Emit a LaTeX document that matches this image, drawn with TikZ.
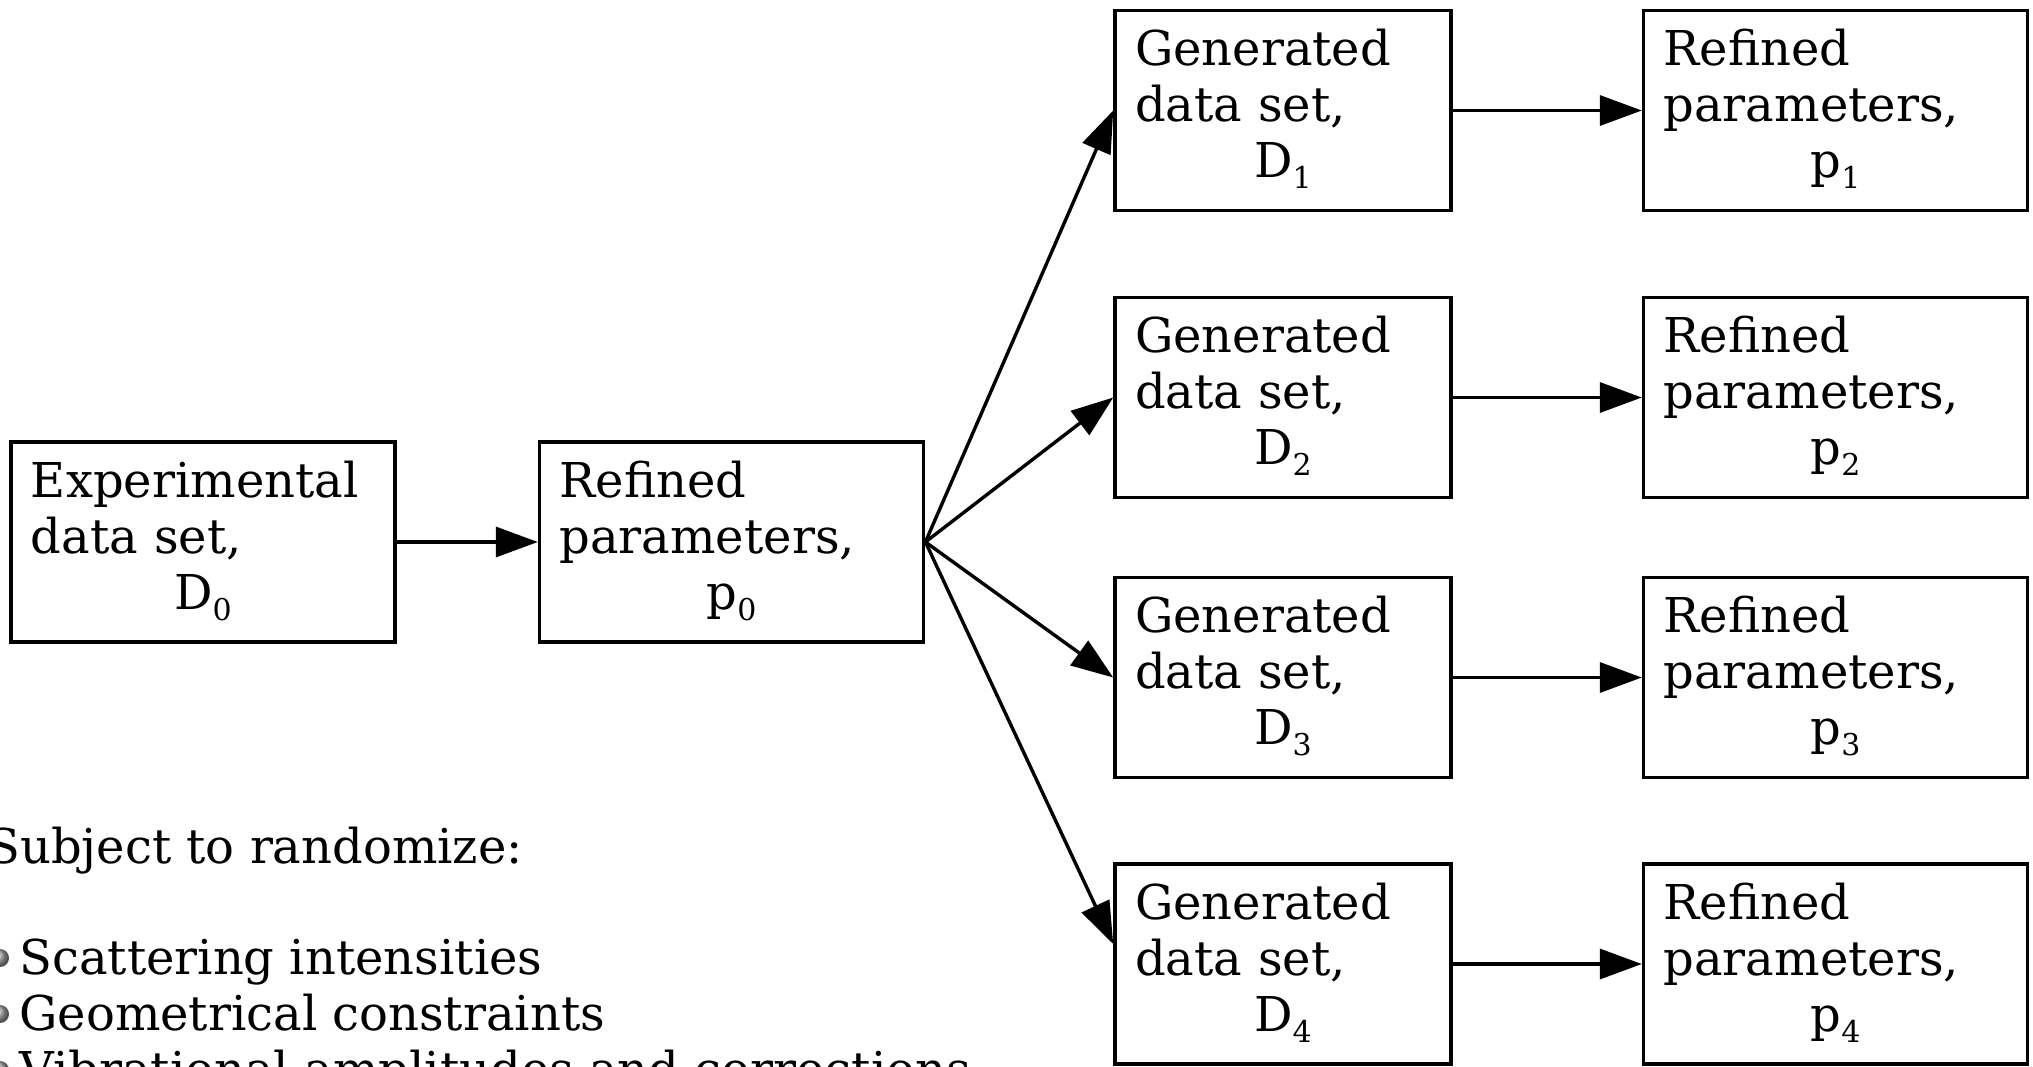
\documentclass[tikz,border=0pt]{standalone}
\usepackage{fontspec}
\setmainfont{DejaVu Serif}
\usetikzlibrary{positioning, arrows.meta}

\begin{document}
\begin{tikzpicture}[
  x=0.5pt, y=-0.5pt,
  font=\fontsize{24}{28}\selectfont,
  >={Triangle[length=21pt, width=15pt]},
  stagebox/.style={rectangle, draw=black, line width=1.8pt, minimum width=192pt, minimum height=100pt, text width=172pt, inner xsep=10pt, inner ysep=0pt, align=left},
  genbox/.style={stagebox, minimum width=168pt, text width=148pt},
  flowarrow/.style={->, line width=1.7pt},
  bulletdot/.style={circle, inner sep=0pt, minimum size=9pt, ball color=gray!70},
  listtext/.style={anchor=base west, inner sep=0pt}
]
\useasboundingbox (0,0) rectangle (2033,1066);

% Starting data and first refinement
\node[stagebox] (D0) at (203,542) {\strut Experimental\\data set,\\\hbox to\hsize{\hfil D\raisebox{-5.5pt}{\fontsize{15}{15}\selectfont 0}\strut\hfil}};
\node[stagebox, right=70.5pt of D0] (P0) {\strut Refined\\parameters,\\\hbox to\hsize{\hfil p\raisebox{-5.5pt}{\fontsize{15}{15}\selectfont 0}\strut\hfil}};

% Generated data sets
\node[genbox] (D1) at (1283,110.5) {\strut Generated\\data set,\\\hbox to\hsize{\hfil D\raisebox{-5.5pt}{\fontsize{15}{15}\selectfont 1}\strut\hfil}};
\node[genbox] (D2) at (1283,397.5) {\strut Generated\\data set,\\\hbox to\hsize{\hfil D\raisebox{-5.5pt}{\fontsize{15}{15}\selectfont 2}\strut\hfil}};
\node[genbox] (D3) at (1283,677.5) {\strut Generated\\data set,\\\hbox to\hsize{\hfil D\raisebox{-5.5pt}{\fontsize{15}{15}\selectfont 3}\strut\hfil}};
\node[genbox] (D4) at (1283,964) {\strut Generated\\data set,\\\hbox to\hsize{\hfil D\raisebox{-5.5pt}{\fontsize{15}{15}\selectfont 4}\strut\hfil}};

% Refined parameters
\node[stagebox, right=94.5pt of D1] (P1) {\strut Refined\\parameters,\\\hbox to\hsize{\hfil p\raisebox{-5.5pt}{\fontsize{15}{15}\selectfont 1}\strut\hfil}};
\node[stagebox, right=94.5pt of D2] (P2) {\strut Refined\\parameters,\\\hbox to\hsize{\hfil p\raisebox{-5.5pt}{\fontsize{15}{15}\selectfont 2}\strut\hfil}};
\node[stagebox, right=94.5pt of D3] (P3) {\strut Refined\\parameters,\\\hbox to\hsize{\hfil p\raisebox{-5.5pt}{\fontsize{15}{15}\selectfont 3}\strut\hfil}};
\node[stagebox, right=94.5pt of D4] (P4) {\strut Refined\\parameters,\\\hbox to\hsize{\hfil p\raisebox{-5.5pt}{\fontsize{15}{15}\selectfont 4}\strut\hfil}};

% Randomized quantities
\node[listtext] (subj) at (-13,863) {Subject to randomize:};
\node[listtext] (item1) at (19,974) {Scattering intensities};
\node[listtext] (item2) at (19,1030) {Geometrical constraints};
\node[listtext] (item3) at (19,1086) {Vibrational amplitudes and corrections};
\node[bulletdot] (dot1) at (0,958) {};
\node[bulletdot] (dot2) at (0,1014) {};
\node[bulletdot] (dot3) at (0,1070) {};

% Routing
\draw[flowarrow] (D0) -- (P0);
\draw[flowarrow] (P0.east) -- (D1.west);
\draw[flowarrow] (P0.east) -- (D2.west);
\draw[flowarrow] (P0.east) -- (D3.west);
\draw[flowarrow] (P0.east) -- ([yshift=10pt]D4.west);
\draw[flowarrow] (D1) -- (P1);
\draw[flowarrow] (D2) -- (P2);
\draw[flowarrow] (D3) -- (P3);
\draw[flowarrow] (D4) -- (P4);

\end{tikzpicture}
\end{document}
